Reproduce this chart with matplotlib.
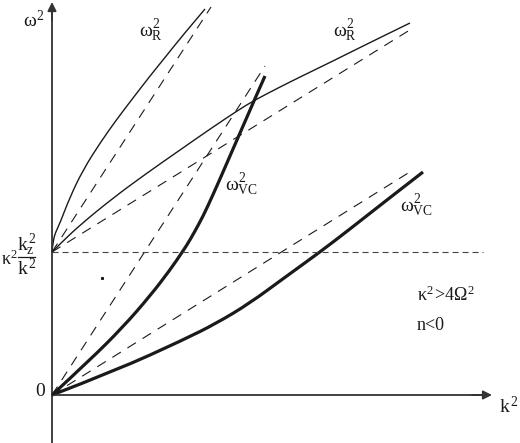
import matplotlib
matplotlib.use("Agg")
import matplotlib.pyplot as plt
from matplotlib.path import Path
from matplotlib.patches import PathPatch

plt.rcParams['font.family'] = ['Liberation Serif', 'DejaVu Serif']
plt.rcParams['mathtext.fontset'] = 'custom'
plt.rcParams['mathtext.rm'] = 'Liberation Serif'
plt.rcParams['mathtext.it'] = 'Liberation Serif'
plt.rcParams['mathtext.bf'] = 'Liberation Serif:bold'

# level kappa^2 kz^2 / k^2 on the w2 axis
level = 143

# upper omega_R^2 branch (starts at the level)
r1_k2 = [0, 1.2, 3.7, 8, 18, 31, 48, 65, 81, 98, 115, 131, 153]
r1_w2 = [143, 155, 163, 172, 198, 225, 252, 276, 297, 319, 340, 360, 386]

# lower omega_R^2 branch (starts at the level)
r2_k2 = [0, 10, 28, 61, 95, 128, 161, 185, 201, 228, 248, 281, 315, 358]
r2_w2 = [143, 153, 170, 197, 222, 245, 268, 284, 294, 308, 318, 334, 351, 372]

# steep omega_VC^2 branch (from origin)
vc1_k2 = [0, 38, 71, 98, 118, 131, 138, 148, 155, 168, 181, 195, 205, 213]
vc1_w2 = [0, 35, 68, 99, 125, 144, 155, 173, 187, 216, 246, 278, 301, 319]

# flat omega_VC^2 branch (from origin)
vc2_k2 = [0, 65, 131, 165, 198, 232, 268, 298, 331, 371]
vc2_w2 = [0, 25, 55, 72, 92, 117, 143, 166, 192, 223]

# dashed asymptotes: (start, end)
asym_r1 = ([0, 159], [143, 388])
asym_r2 = ([0, 361], [143, 367])
asym_vc1 = ([0, 213], [0, 329])
asym_vc2 = ([0, 361], [0, 225])
level_line = ([0, 431], [level, level])

stray_dot = (50, 117)


def smooth_curve(ax, xs, ys, lw):
    # quadratic bezier chain through the midpoints of the read points
    pts = list(zip(xs, ys))
    verts = [pts[0]]
    codes = [Path.MOVETO]
    for i in range(1, len(pts) - 1):
        if i < len(pts) - 2:
            end = ((pts[i][0] + pts[i + 1][0]) / 2, (pts[i][1] + pts[i + 1][1]) / 2)
        else:
            end = pts[-1]
        verts += [pts[i], end]
        codes += [Path.CURVE3, Path.CURVE3]
    patch = PathPatch(Path(verts, codes), fill=False, edgecolor=ink, lw=lw,
                      capstyle='butt', joinstyle='round')
    ax.add_patch(patch)


fig = plt.figure(figsize=(5.2, 4.43), dpi=100)
ax = fig.add_axes([0, 0, 1, 1])
ax.set_xlim(-52, 468)
ax.set_ylim(-48, 395)
ax.axis('off')

ink = '#1a1a1a'
axis_col = '#333333'

# axes with arrows
ax.plot([0, 0], [-48, 385], color=axis_col, lw=1.3)
ax.plot([0, 430], [0, 0], color=axis_col, lw=1.3)
ax.annotate('', xy=(0, 393), xytext=(0, 375),
            arrowprops=dict(arrowstyle='-|>', color=axis_col, lw=1.3,
                            mutation_scale=13, shrinkA=0, shrinkB=0))
ax.annotate('', xy=(440, 0), xytext=(420, 0),
            arrowprops=dict(arrowstyle='-|>', color=axis_col, lw=1.3,
                            mutation_scale=13, shrinkA=0, shrinkB=0))

# dashed lines
for xs, ys in [asym_r1, asym_r2, asym_vc1, asym_vc2]:
    ax.plot(xs, ys, color=ink, lw=0.8, dashes=(9, 7))
ax.plot(level_line[0], level_line[1], color='#444444', lw=0.8, dashes=(5.5, 3.5))

# curves
smooth_curve(ax, r1_k2, r1_w2, 1.0)
smooth_curve(ax, r2_k2, r2_w2, 1.0)
smooth_curve(ax, vc1_k2, vc1_w2, 2.3)
smooth_curve(ax, vc2_k2, vc2_w2, 2.3)

ax.plot(stray_dot[0], stray_dot[1], 's', color=ink, ms=1.2)

fs = 14
ax.text(-18, 375, r'$\omega^2$', fontsize=fs, ha='center', va='center', color=ink)
ax.text(99, 364, r'$\omega^2_R$', fontsize=fs, ha='center', va='center', color=ink)
ax.text(293, 364, r'$\omega^2_R$', fontsize=fs, ha='center', va='center', color=ink)
ax.text(189, 210, r'$\omega^2_{VC}$', fontsize=fs, ha='center', va='center', color=ink)
ax.text(364, 189, r'$\omega^2_{VC}$', fontsize=fs, ha='center', va='center', color=ink)

# level label kappa^2 kz^2 / k^2, built as a stacked fraction
ax.text(-51, 136, r'$\kappa^2$', fontsize=13, ha='left', va='center', color=ink)
ax.text(-25, 150, r'$k_z^2$', fontsize=14, ha='center', va='center', color=ink)
ax.plot([-34, -17], [138, 138], color=ink, lw=0.9)
ax.text(-25, 126, r'$k^2$', fontsize=14, ha='center', va='center', color=ink)

ax.text(-12, 4, '0', fontsize=fs, ha='center', va='center', color=ink)
ax.text(457, -12, r'$k^2$', fontsize=fs, ha='center', va='center', color=ink)
ax.text(365, 100, r'$\kappa^2\!>\!4\Omega^2$', fontsize=fs - 1, ha='left', va='center', color=ink)
ax.text(365, 70, 'n<0', fontsize=fs - 1, ha='left', va='center', color=ink)

fig.savefig('out.png', dpi=100)
